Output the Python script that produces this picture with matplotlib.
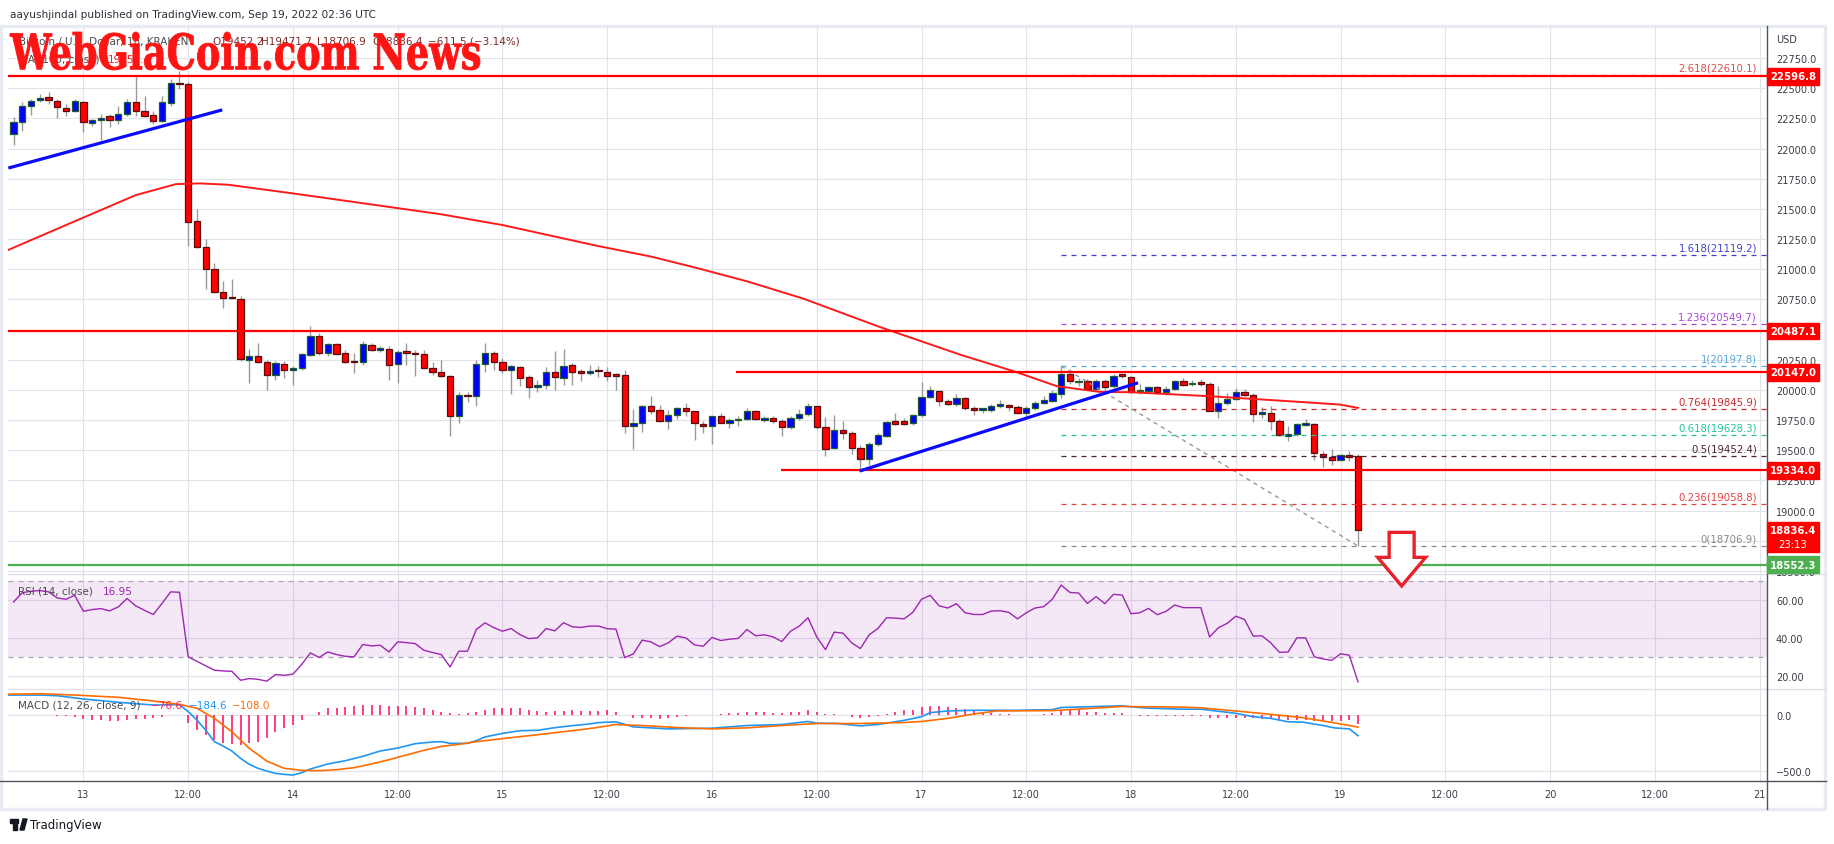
import numpy as np
import matplotlib
matplotlib.use("Agg")
import matplotlib.pyplot as plt
from matplotlib.patches import Rectangle, Polygon, PathPatch
from matplotlib.lines import Line2D
from matplotlib.transforms import blended_transform_factory, Affine2D
from matplotlib.textpath import TextPath
from matplotlib.font_manager import FontProperties

W, H = 1834, 845

# hourly candles, hour 0 = Sep 13 00:00 UTC
hours = np.arange(-8, 147)
opens = [22118, 22218, 22350, 22400, 22425, 22397, 22339, 22314, 22389, 22209,
         22234, 22267, 22234, 22284, 22384, 22314, 22278, 22231, 22375, 22541,
         22533, 21403, 21187, 21000, 20814, 20767, 20755, 20251, 20285, 20232,
         20124, 20218, 20168, 20182, 20293, 20443, 20307, 20384, 20307, 20235,
         20232, 20376, 20334, 20340, 20215, 20322, 20308, 20300, 20183, 20150,
         20117, 19786, 19955, 19953, 20214, 20305, 20231, 20164, 20189, 20103,
         20028, 20042, 20147, 20097, 20205, 20155, 20139, 20158, 20147, 20130,
         20122, 19697, 19730, 19864, 19830, 19744, 19789, 19850, 19822, 19717,
         19697, 19780, 19730, 19747, 19755, 19822, 19750, 19767, 19739, 19689,
         19764, 19797, 19864, 19692, 19520, 19664, 19647, 19522, 19431, 19556,
         19616, 19746, 19743, 19727, 19793, 19942, 19995, 19909, 19887, 19931,
         19851, 19835, 19835, 19868, 19876, 19862, 19810, 19851, 19893, 19912,
         19967, 20128, 20064, 20075, 20009, 20075, 20031, 20128, 20108, 19988,
         19989, 20025, 19984, 20009, 20070, 20045, 20056, 20053, 19829, 19893,
         19926, 19981, 19956, 19804, 19810, 19741, 19622, 19633, 19713, 19718,
         19470, 19445, 19420, 19461, 19452.2]
highs = [22259, 22384, 22411, 22453, 22472, 22411, 22370, 22411, 22397, 22245,
         22287, 22287, 22356, 22411, 22611, 22439, 22314, 22439, 22577, 22640,
         22550, 21503, 21248, 21055, 20902, 20916, 20778, 20340, 20390, 20251,
         20238, 20238, 20196, 20307, 20528, 20473, 20390, 20390, 20334, 20307,
         20404, 20390, 20362, 20362, 20334, 20392, 20328, 20328, 20231, 20244,
         20125, 19986, 19986, 20244, 20392, 20322, 20264, 20208, 20197, 20125,
         20083, 20189, 20319, 20342, 20225, 20175, 20208, 20197, 20189, 20142,
         20167, 19842, 19875, 19953, 19875, 19833, 19855, 19892, 19828, 19744,
         19786, 19808, 19767, 19780, 19853, 19836, 19786, 19780, 19758, 19786,
         19842, 19892, 19869, 19772, 19792, 19742, 19661, 19542, 19569, 19642,
         19740, 19810, 19768, 19804, 20064, 20031, 20003, 19926, 19970, 19942,
         19865, 19854, 19887, 19915, 19887, 19879, 19865, 19912, 19953, 19998,
         20197.8, 20175, 20100, 20092, 20092, 20092, 20133, 20141, 20119, 20045,
         20031, 20031, 20031, 20086, 20100, 20086, 20092, 20064, 20036, 19976,
         20017, 20009, 19976, 19859, 19870, 19760, 19705, 19727, 19760, 19727,
         19492, 19511, 19472, 19492, 19471.7]
lows = [22029, 22148, 22278, 22384, 22370, 22251, 22273, 22300, 22134, 22190,
        22071, 22176, 22204, 22267, 22267, 22259, 22204, 22218, 22356, 22494,
        21193, 21179, 20833, 20805, 20681, 20750, 20238, 20058, 20224, 20002,
        20085, 20099, 20044, 20168, 20279, 20293, 20279, 20293, 20224, 20141,
        20210, 20321, 20312, 20085, 20058, 20203, 20119, 20175, 20125, 20106,
        19619, 19725, 19903, 19869, 20147, 20169, 20142, 19969, 20030, 19936,
        19980, 20008, 20003, 20042, 20042, 20078, 20125, 20106, 20078, 20003,
        19647, 19514, 19653, 19800, 19735, 19680, 19758, 19786, 19586, 19642,
        19550, 19725, 19686, 19703, 19753, 19753, 19736, 19730, 19619, 19680,
        19753, 19780, 19680, 19453, 19514, 19592, 19467, 19328, 19375, 19536,
        19611, 19713, 19710, 19707, 19776, 19934, 19870, 19879, 19870, 19837,
        19796, 19810, 19821, 19851, 19823, 19804, 19768, 19837, 19887, 19898,
        19934, 20045, 20036, 20003, 19989, 19981, 20017, 20100, 19976, 19970,
        19976, 19967, 19962, 20003, 20031, 20031, 20031, 19824, 19768, 19879,
        19920, 19948, 19732, 19768, 19666, 19616, 19575, 19622, 19705, 19417,
        19362, 19381, 19417, 19409, 18706.9]
closes = [22218, 22356, 22397, 22422, 22406, 22342, 22314, 22397, 22218, 22234,
          22256, 22234, 22284, 22389, 22314, 22273, 22231, 22384, 22541, 22533,
          21392, 21185, 21000, 20814, 20764, 20761, 20257, 20285, 20232, 20124,
          20224, 20168, 20182, 20298, 20443, 20307, 20384, 20298, 20232, 20229,
          20381, 20334, 20340, 20210, 20315, 20305, 20294, 20180, 20147, 20114,
          19786, 19955, 19947, 20214, 20305, 20231, 20164, 20197, 20097, 20022,
          20036, 20147, 20103, 20197, 20147, 20139, 20155, 20153, 20119, 20119,
          19705, 19730, 19864, 19828, 19744, 19789, 19850, 19822, 19722, 19697,
          19780, 19730, 19747, 19758, 19822, 19755, 19767, 19739, 19689, 19764,
          19800, 19864, 19689, 19514, 19664, 19647, 19522, 19431, 19556, 19625,
          19735, 19718, 19716, 19793, 19942, 20001, 19909, 19887, 19931, 19848,
          19835, 19843, 19868, 19876, 19857, 19810, 19851, 19893, 19915, 19978,
          20128, 20072, 20074, 20009, 20075, 20025, 20119, 20114, 19984, 19995,
          20025, 19984, 20009, 20070, 20039, 20053, 20050, 19829, 19893, 19926,
          19981, 19956, 19804, 19812, 19741, 19624, 19630, 19718, 19721, 19475,
          19445, 19420, 19458, 19445, 18836.4]

# 100 period moving average
ma_t = [-8.6, 0, 6, 10.6, 13.3, 16.6, 24, 36, 40.9, 48, 58.9, 65, 70, 76, 82.4,
        91.2, 100.4, 106.9, 111.5, 116.4, 119.9, 129, 138.2, 143.9, 146]
ma_v = [21160, 21428, 21614, 21705, 21711, 21700, 21628, 21506, 21456, 21366,
        21193, 21105, 21015, 20900, 20758, 20522, 20293, 20147, 20031, 19984,
        19981, 19948, 19906, 19879, 19851]

rsi = [59.0, 63.9, 64.6, 65.0, 64.3, 61.1, 60.4, 62.5, 54.1, 55.0,
       55.5, 54.3, 56.4, 60.8, 56.9, 54.6, 52.4, 58.2, 64.3, 64.1,
       30.1, 27.8, 25.4, 23.1, 22.7, 22.5, 17.8, 18.7, 18.3, 17.3,
       20.8, 20.4, 21.0, 26.1, 32.2, 29.8, 32.7, 31.3, 30.4, 30.1,
       36.6, 35.9, 36.2, 32.7, 38.0, 37.6, 37.1, 33.6, 32.4, 31.3,
       24.8, 33.1, 33.1, 44.5, 48.0, 45.5, 43.6, 45.0, 41.8, 39.7,
       40.1, 45.0, 43.8, 48.1, 45.9, 45.6, 46.3, 46.3, 44.9, 44.7,
       29.7, 31.7, 38.9, 38.0, 35.5, 37.5, 41.0, 40.1, 36.4, 35.7,
       40.3, 38.7, 39.4, 39.8, 44.5, 41.2, 41.7, 40.6, 38.2, 43.6,
       46.3, 50.7, 40.6, 33.9, 43.1, 42.6, 37.5, 34.5, 41.7, 45.0,
       50.7, 50.5, 50.1, 53.5, 60.4, 62.5, 57.0, 55.8, 58.1, 53.3,
       52.4, 52.4, 54.2, 54.4, 53.5, 50.1, 53.3, 55.8, 56.5, 60.5,
       67.9, 64.0, 63.7, 58.2, 61.8, 58.1, 63.0, 62.6, 52.8, 53.3,
       55.6, 52.3, 54.0, 57.4, 56.0, 56.0, 56.0, 40.6, 45.4, 47.7,
       51.5, 49.8, 41.0, 41.2, 37.5, 32.5, 32.7, 40.1, 40.1, 30.1,
       29.0, 28.3, 31.7, 31.0, 16.95]

macd_t = [-8.6, -5, -3, 0, 4, 8, 11, 12, 13, 14, 15, 16, 17, 18, 19, 20, 21, 22,
          23, 24, 25, 26, 28, 30, 32, 34, 36, 38, 40, 41, 42, 44, 45, 46, 48, 50,
          52, 54, 56, 58, 59, 61, 63, 67, 72, 76, 80, 83, 84, 86.4, 89, 91, 94,
          96, 97, 99, 102, 107, 111, 112, 119, 120, 122, 126, 128, 132, 134, 136,
          138, 139.7, 142, 143.3, 145, 146]
macd_v = [178, 178, 172, 143, 113, 89, 92, 30, -45, -134, -238, -277, -321, -387,
          -440, -476, -500, -521, -530, -536, -515, -482, -437, -408, -369, -321,
          -295, -256, -241, -238, -253, -253, -229, -196, -164, -140, -137, -113,
          -95, -80, -68, -61, -106, -124, -118, -94, -85, -58, -73, -76, -97, -85,
          -48, -15, 21, 36, 42, 42, 48, 67, 82, 73, 61, 52, 52, 15, -15, -30, -61,
          -64, -94, -115, -124, -184.6]
signal_t = [-8.6, -5, -1, 4, 8, 11, 13, 15, 17, 19, 21, 23, 25, 27, 29, 31, 33,
            35, 37, 39, 41, 43, 45, 47, 49, 51, 53, 55, 57, 59, 61, 64, 68, 72,
            76, 80, 84, 89, 94, 96, 99, 102, 104.6, 111, 119, 126, 128, 132, 136,
            139.7, 143.3, 146]
signal_v = [185, 190, 178, 158, 125, 95, 60, -30, -149, -298, -411, -476, -494,
            -497, -488, -470, -437, -399, -357, -315, -280, -262, -238, -220, -202,
            -185, -167, -149, -131, -110, -85, -94, -112, -124, -115, -94, -76,
            -76, -67, -58, -30, 9, 36, 39, 76, 70, 64, 36, 6, -24, -70, -108]
hist = [3, 3, 2, 0, -3, -6, -12, -15, -36, -45,
        -45, -54, -54, -45, -36, -36, -30, -15, 0, 2,
        -74, -134, -179, -223, -247, -262, -268, -253, -238, -208,
        -155, -119, -89, -45, 0, 30, 60, 65, 74, 80,
        89, 89, 89, 80, 80, 80, 74, 60, 45, 30,
        15, 9, 15, 30, 45, 60, 60, 60, 60, 45,
        36, 30, 36, 40, 42, 40, 40, 40, 42, 30,
        0, -30, -30, -30, -33, -30, -18, -9, 0, 0,
        0, 12, 15, 21, 27, 30, 30, 21, 21, 27,
        30, 42, 30, 12, 6, 0, -15, -24, -18, -9,
        12, 30, 42, 42, 67, 82, 76, 67, 58, 52,
        42, 21, 15, 12, 6, 0, 0, 0, 12, 21,
        42, 42, 42, 30, 30, 21, 21, 21, 0, -9,
        -9, -9, -9, -9, -9, -9, -9, -24, -30, -30,
        -30, -30, -30, -39, -39, -39, -48, -45, -45, -55,
        -55, -55, -55, -45, -76.6]

# drawn levels
red_levels = [22596.8, 20487.1, 20147.0, 19334.0]
red_starts = [None, None, 74.8, 79.9]
support_level = 18552.3
fib_ratios = ["2.618", "1.618", "1.236", "1", "0.764", "0.618", "0.5", "0.236", "0"]
fib_prices = [22610.1, 21119.2, 20549.7, 20197.8, 19845.9, 19628.3, 19452.4, 19058.8, 18706.9]
fib_colors = ["#e04a4a", "#4040d0", "#a846d8", "#5aa8d8", "#cc2a2a", "#22c49a",
              "#4d2336", "#e8403c", "#888888"]
trend1 = ([-8.6, 15.9], [21838, 22320])
trend2 = ([88.9, 120.8], [19328, 20059])
swing = ([112, 146], [20197.8, 18706.9])
arrow_t = [149.57, 152.43, 152.43, 153.75, 151.0, 148.25, 149.57]
arrow_p = [18820, 18820, 18613, 18613, 18376, 18613, 18613]

tick_hours = np.arange(0, 193, 12)
tick_names = ["13", "12:00", "14", "12:00", "15", "12:00", "16", "12:00", "17",
              "12:00", "18", "12:00", "19", "12:00", "20", "12:00", "21"]
hidden_ticks = [20500, 18750]   # covered by price tags in the original

T0, T1 = -8.64, 192.85
grid_c = "#e1e3ea"
text_c = "#3a3d46"


def px_axes(x0, y0, x1, y1):
    return [x0 / W, 1 - y1 / H, (x1 - x0) / W, (y1 - y0) / H]


fig = plt.figure(figsize=(W / 100, H / 100), dpi=100)
fig.patch.set_facecolor("white")

ax_p = fig.add_axes(px_axes(8, 27, 1767, 575))
ax_r = fig.add_axes(px_axes(8, 575, 1767, 690))
ax_m = fig.add_axes(px_axes(8, 690, 1767, 782))
ax_p.set_zorder(3)

for ax in (ax_p, ax_r, ax_m):
    ax.set_xlim(T0, T1)
    for s in ax.spines.values():
        s.set_visible(False)
    ax.set_xticks(tick_hours)
    ax.set_axisbelow(True)
    ax.grid(True, color=grid_c, lw=0.8)
    ax.yaxis.tick_right()
    ax.tick_params(axis="y", length=0, pad=6.5, labelsize=7, labelcolor=text_c)
    ax.tick_params(axis="x", length=0, labelbottom=False)
    ax.patch.set_alpha(0)

# ---- price pane
ax_p.set_ylim(18475, 23015)
pt = np.arange(18500, 22751, 250)
ax_p.set_yticks(pt, ["" if v in hidden_ticks else f"{v:.1f}" for v in pt])

o = np.array(opens, float)
c = np.array(closes, float)
up = c >= o
lo = np.minimum(o, c)
ht = np.maximum(np.abs(c - o), 12)
ax_p.vlines(hours, lows, highs, color="#9a9a9a", lw=1, zorder=3)
ax_p.bar(hours[up], ht[up], 0.72, bottom=lo[up], color="#0000ff",
         edgecolor="#1f5d2a", lw=0.9, zorder=4)
ax_p.bar(hours[~up], ht[~up], 0.72, bottom=lo[~up], color="#ff0000",
         edgecolor="#5a0c0c", lw=0.9, zorder=4)

ax_p.plot(ma_t, ma_v, color="#ff1a1a", lw=1.4, zorder=5)

for lv, st in zip(red_levels, red_starts):
    ax_p.hlines(lv, T0 if st is None else st, T1, color="#ff0000", lw=1.6, zorder=6)
ax_p.hlines(support_level, T0, T1, color="#4caf50", lw=1.6, zorder=6)

for r, p, col in zip(fib_ratios, fib_prices, fib_colors):
    ax_p.hlines(p, 112, T1, color=col, lw=0.9, linestyles=(0, (4, 4)), zorder=5)
    ax_p.annotate(f"{r}({p})", (191.7, p), xytext=(0, 1.5), textcoords="offset points",
                  ha="right", va="bottom", color=col, fontsize=7.3, zorder=7)

ax_p.plot(*trend1, color="#0a0aff", lw=2.3, solid_capstyle="butt", zorder=6)
ax_p.plot(*trend2, color="#0a0aff", lw=2.3, solid_capstyle="butt", zorder=6)
ax_p.plot(*swing, color="#9598a1", lw=1, dashes=(3, 3), zorder=5)

ax_p.add_patch(Polygon(list(zip(arrow_t, arrow_p)), closed=True, facecolor="white",
                       edgecolor="#e8212b", lw=2.4, clip_on=False, zorder=9))

# price tags on the right axis
tb = blended_transform_factory(ax_p.transAxes, ax_p.transData)
tag_w = 52 / 1759
tag_h = 138
for lv in red_levels + [support_level]:
    col = "#4caf50" if lv == support_level else "#ff0000"
    ax_p.add_patch(Rectangle((1.0, lv - tag_h / 2), tag_w, tag_h, transform=tb,
                             color=col, clip_on=False, zorder=8))
    ax_p.text(1.0 + tag_w / 2, lv, f"{lv:.1f}", transform=tb, ha="center", va="center",
              color="white", fontsize=7.3, weight="bold", clip_on=False, zorder=9)
last = closes[-1]
ax_p.add_patch(Rectangle((1.0, 18657), tag_w, 18906 - 18657, transform=tb,
                         color="#ff0000", clip_on=False, zorder=8))
ax_p.text(1.0 + tag_w / 2, last, f"{last:.1f}", transform=tb, ha="center", va="center",
          color="white", fontsize=7.3, weight="bold", clip_on=False, zorder=9)
ax_p.text(1.0 + tag_w / 2, 18725, "23:13", transform=tb, ha="center", va="center",
          color="white", fontsize=7.3, clip_on=False, zorder=9)
ax_p.text(1.0 + 9 / 1759, (575 - 40) / 548, "USD", transform=ax_p.transAxes,
          ha="left", va="center", fontsize=7, color=text_c)

# ---- RSI pane
ax_r.set_ylim(13.2, 73.7)
ax_r.set_yticks([20, 40, 60], ["20.00", "40.00", "60.00"])
ax_r.axhspan(30, 70, color="#9c27b0", alpha=0.11, lw=0, zorder=1)
ax_r.hlines([30, 70], T0, T1, color="#aaa3b3", lw=0.9, linestyles=(0, (4, 4)), zorder=2)
ax_r.plot(hours, rsi, color="#9c27b0", lw=1.0, zorder=3)

# ---- MACD pane
ax_m.set_ylim(-589, 232)
ax_m.set_yticks([0, -500], ["0.0", "\u2212500.0"])
ax_m.vlines(hours, 0, hist, color="#ff0a5c", lw=1.1, zorder=2)
ax_m.plot(macd_t, macd_v, color="#2196f3", lw=1.2, zorder=3)
ax_m.plot(signal_t, signal_v, color="#ff6d00", lw=1.2, zorder=3)
ax_m.tick_params(axis="x", labelbottom=True, pad=6, labelsize=7, labelcolor=text_c)
ax_m.set_xticklabels(tick_names)

# ---- frame lines
def fline(x0, y0, x1, y1, col, lw):
    fig.add_artist(Line2D([x0 / W, x1 / W], [1 - y0 / H, 1 - y1 / H],
                          transform=fig.transFigure, color=col, lw=lw))

fig.add_artist(Rectangle((1 / W, 1 - 810 / H), 1824 / W, 783 / H, transform=fig.transFigure,
                         fill=False, edgecolor="#e9ebf2", lw=2.5))
fline(8, 575, 1826, 575, "#dfe1e8", 1)
fline(8, 690, 1826, 690, "#dfe1e8", 1)
fline(0, 782, 1826, 782, "#50535e", 1)
fline(1767, 27, 1767, 810, "#50535e", 1)

# ---- header, legends, watermark
fig.text(10 / W, 1 - 15 / H, "aayushjindal published on TradingView.com, Sep 19, 2022 02:36 UTC",
         va="center", ha="left", fontsize=7.6, color="#2a2e39")
fig.text(19 / W, 1 - 42 / H, "Bitcoin / U.S. Dollar, 1h, KRAKEN", va="center",
         fontsize=7.5, color="#4a4a4a")
for xx, s in [(212, "O19452.2"), (261, "H19471.7"), (317, "L18706.9"),
              (372, "C18836.4"), (428, "\u2212611.5 (\u22123.14%)")]:
    fig.text(xx / W, 1 - 42 / H, s, va="center", fontsize=7.5, color="#7a2a2a")
fig.text(19 / W, 1 - 60 / H, "MA (100, close)", va="center", fontsize=7.5, color="#4a4a4a")
fig.text(108 / W, 1 - 60 / H, "19851.4", va="center", fontsize=7.5, color="#ff2020")

fig.text(18 / W, 1 - 592 / H, "RSI (14, close)", va="center", fontsize=7.5, color="#4a4a4a")
fig.text(103 / W, 1 - 592 / H, "16.95", va="center", fontsize=7.5, color="#9c27b0")
fig.text(18 / W, 1 - 706 / H, "MACD (12, 26, close, 9)", va="center", fontsize=7.5, color="#4a4a4a")
fig.text(151 / W, 1 - 706 / H, "\u221276.6", va="center", fontsize=7.5, color="#ff1f5a")
fig.text(189 / W, 1 - 706 / H, "\u2212184.6", va="center", fontsize=7.5, color="#2196f3")
fig.text(232 / W, 1 - 706 / H, "\u2212108.0", va="center", fontsize=7.5, color="#ff6d00")

fp = FontProperties(family="DejaVu Serif", weight="bold")
tp = TextPath((0, 0), "WebGiaCoin.com News", size=50, prop=fp)
bb = tp.get_extents()
tr = (Affine2D().translate(-bb.x0, -bb.y0)
      .scale(470 / bb.width, 38 / bb.height)
      .translate(10, H - 71)
      .scale(1 / W, 1 / H)) + fig.transFigure
fig.add_artist(PathPatch(tp, transform=tr, facecolor="#ff1414", edgecolor="#ff1414",
                         lw=0.6, zorder=20))

# TradingView footer
fig.add_artist(Rectangle((10 / W, 1 - 824 / H), 8 / W, 4 / H, transform=fig.transFigure, color="#131722"))
fig.add_artist(Rectangle((13 / W, 1 - 831 / H), 4 / W, 10 / H, transform=fig.transFigure, color="#131722"))
fig.add_artist(Polygon([(20 / W, 1 - 831 / H), (23 / W, 1 - 820 / H), (27 / W, 1 - 820 / H),
                        (24 / W, 1 - 831 / H)], transform=fig.transFigure, color="#131722"))
fig.text(30 / W, 1 - 826 / H, "TradingView", va="center", fontsize=8.5, color="#131722")

fig.savefig("out.png", dpi=100)
